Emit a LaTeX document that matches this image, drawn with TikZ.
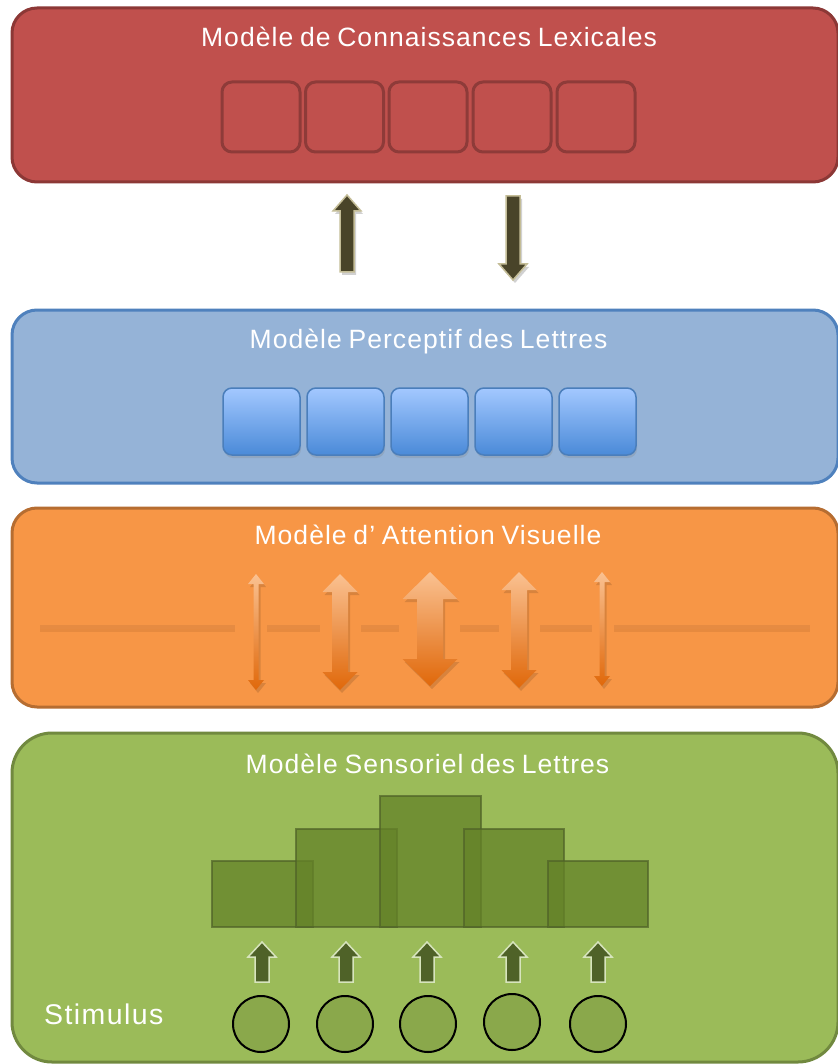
\documentclass[tikz,border=0pt]{standalone}
\usepackage{fontspec}
\setmainfont{Liberation Sans}
\newfontfamily\titlefam{Liberation Sans}[LetterSpace=4,WordSpace=0.8]
\newfontfamily\stimfam{Liberation Sans}[LetterSpace=5]
\usetikzlibrary{shadows}
\definecolor{redfill}{HTML}{C0504D}
\definecolor{redline}{HTML}{8C3836}
\definecolor{redinner}{HTML}{8E3B39}
\definecolor{bluefill}{HTML}{95B3D7}
\definecolor{blueline}{HTML}{4F81BD}
\definecolor{bluetop}{HTML}{A3C8FF}
\definecolor{bluebot}{HTML}{4A8AD8}
\definecolor{blueinline}{HTML}{4A7EBB}
\definecolor{orfill}{HTML}{F79646}
\definecolor{orline}{HTML}{B66D31}
\definecolor{orlight}{HTML}{FAC191}
\definecolor{ordark}{HTML}{E0680A}
\definecolor{orbar}{HTML}{E68B42}
\definecolor{orshadow}{HTML}{C87434}
\definecolor{grfill}{HTML}{9BBB59}
\definecolor{grline}{HTML}{71893F}
\definecolor{grbar}{HTML}{648228}
\definecolor{grbarline}{HTML}{4F6228}
\definecolor{grarrow}{HTML}{4F6228}
\definecolor{grarrowline}{HTML}{D7E4BD}
\definecolor{grcircle}{HTML}{8AA84B}
\definecolor{darrow}{HTML}{494429}
\definecolor{darrowline}{HTML}{C4BD97}
\newcommand{\titlefont}{\titlefam\fontsize{26.5}{30}\selectfont}
\newcommand{\stimfont}{\stimfam\fontsize{28.5}{32}\selectfont}
\tikzset{
  mainbox/.style={rectangle, rounded corners=25pt, line width=3pt, minimum width=826pt, inner sep=0pt},
  titletext/.style={text=white, font=\titlefont, inner sep=0pt, anchor=base},
  redcell/.style={rectangle, rounded corners=10pt, fill=redfill, draw=redinner, line width=3pt, minimum width=78pt, minimum height=70pt},
  bluecell/.style={rectangle, rounded corners=9pt, top color=bluetop, bottom color=bluebot, draw=blueinline, line width=1.5pt, minimum width=77pt, minimum height=67pt, drop shadow={opacity=0.25, shadow xshift=1pt, shadow yshift=-3pt}},
  grbarstyle/.style={fill=grbar, fill opacity=0.75, draw=grbarline, draw opacity=0.7, line width=2pt},
  stimcircle/.style={circle, fill=grcircle, draw=black, line width=2pt, minimum size=56pt, inner sep=0pt},
  darkarrow/.style={fill=darrow, draw=darrowline, line width=1.5pt, line join=miter},
  arrowshadow/.style={fill=black, fill opacity=0.18},
  greenarrow/.style={fill=grarrow, draw=grarrowline, line width=1.5pt},
  orshade/.style={top color=orlight, bottom color=ordark},
  orlinestyle/.style={draw=orbar, line width=4pt},
  orlineshadow/.style={draw=orshadow, line width=4pt, draw opacity=0.35}
}
% single up arrow: cx, tip, bottom, shaft half, head half, head length, style
\newcommand{\blkup}[7]{%
  \path[#7] ({#1-#4},{#3}) -- ({#1-#4},{#2+#6}) -- ({#1-#5},{#2+#6}) -- ({#1},{#2}) -- ({#1+#5},{#2+#6}) -- ({#1+#4},{#2+#6}) -- ({#1+#4},{#3}) -- cycle;}
% single down arrow: cx, top, tip, shaft half, head half, head length, style
\newcommand{\blkdown}[7]{%
  \path[#7] ({#1-#4},{#2}) -- ({#1-#4},{#3-#6}) -- ({#1-#5},{#3-#6}) -- ({#1},{#3}) -- ({#1+#5},{#3-#6}) -- ({#1+#4},{#3-#6}) -- ({#1+#4},{#2}) -- cycle;}
% double arrow: cx, top, bottom, shaft half, head half, head length
\newcommand{\dblarr}[6]{%
  \path[fill=black, fill opacity=0.12] ({#1+2},{#2+3}) -- ({#1+#5+2},{#2+#6+3}) -- ({#1+#4+2},{#2+#6+3}) -- ({#1+#4+2},{#3-#6+3}) -- ({#1+#5+2},{#3-#6+3}) -- ({#1+2},{#3+3}) -- ({#1-#5+2},{#3-#6+3}) -- ({#1-#4+2},{#3-#6+3}) -- ({#1-#4+2},{#2+#6+3}) -- ({#1-#5+2},{#2+#6+3}) -- cycle;
  \shade[orshade] ({#1},{#2}) -- ({#1+#5},{#2+#6}) -- ({#1+#4},{#2+#6}) -- ({#1+#4},{#3-#6}) -- ({#1+#5},{#3-#6}) -- ({#1},{#3}) -- ({#1-#5},{#3-#6}) -- ({#1-#4},{#3-#6}) -- ({#1-#4},{#2+#6}) -- ({#1-#5},{#2+#6}) -- cycle;}
\begin{document}
\begin{tikzpicture}[x=1pt, y=-1pt]
\useasboundingbox (0,0) rectangle (837,1064);
\fill[white] (0,0) rectangle (837,1064);

% ---------- Lexical knowledge model ----------
\node[mainbox, fill=redfill, draw=redline, minimum height=174pt] (lex) at (425,95) {};
\node[titletext] (lextitle) at (429,47) {Modèle de Connaissances Lexicales};
\foreach \i/\cx in {1/261, 2/344.5, 3/428, 4/512, 5/596}
  \node[redcell] (lexcell\i) at (\cx,117) {};

% ---------- arrows between lexical and perceptual ----------
\blkup{349}{198}{275}{7}{14}{16}{arrowshadow}
\blkup{347}{195}{272}{7}{14}{16}{darkarrow}
\blkdown{515}{199}{283}{7}{14}{16}{arrowshadow}
\blkdown{513}{196}{280}{7}{14}{16}{darkarrow}

% ---------- Perceptual letter model ----------
\node[mainbox, fill=bluefill, draw=blueline, minimum height=173pt] (perc) at (425,396.5) {};
\node[titletext] (perctitle) at (428.5,348) {Modèle Perceptif des Lettres};
\foreach \i/\cx in {1/261.5, 2/345.5, 3/429.5, 4/513.5, 5/597.5}
  \node[bluecell] (perccell\i) at (\cx,421.5) {};

% ---------- Visual attention model ----------
\node[mainbox, fill=orfill, draw=orline, minimum height=199pt] (att) at (425,607.5) {};
\node[titletext] (atttitle) at (428,544) {Modèle d’ Attention Visuelle};
\foreach \a/\b in {40/235, 267/320, 361/399, 460/499, 540/592, 614/810}{
  \draw[orlineshadow] (\a,630) -- (\b,630);
  \draw[orlinestyle] (\a,627) -- (\b,627);
}
\dblarr{256}{574}{690}{2.5}{8}{10}
\dblarr{340}{574}{690}{8}{17.5}{18}
\dblarr{430}{572}{686}{13}{27.5}{27}
\dblarr{519}{572}{688}{8}{17.5}{18}
\dblarr{602}{572}{686}{2.5}{8}{10}

% ---------- Sensory letter model ----------
\node[mainbox, fill=grfill, draw=grline, rounded corners=40pt, minimum height=329pt] (sens) at (425,897.5) {};
\node[titletext] (senstitle) at (427.5,773) {Modèle Sensoriel des Lettres};
\path[grbarstyle] (212,861) rectangle (313,927);
\path[grbarstyle] (296,829) rectangle (397,927);
\path[grbarstyle] (380,796) rectangle (481,927);
\path[grbarstyle] (464,829) rectangle (564,927);
\path[grbarstyle] (548,861) rectangle (648,927);
\foreach \cx in {262, 346, 427, 513, 598}
  \blkup{\cx}{942}{982}{7}{14}{15}{greenarrow};
\node[stimcircle] (c1) at (261,1024) {};
\node[stimcircle] (c2) at (345,1024) {};
\node[stimcircle] (c3) at (428,1024) {};
\node[stimcircle] (c4) at (512,1022) {};
\node[stimcircle] (c5) at (598,1024) {};
\node[text=white, font=\stimfont, inner sep=0pt, anchor=base west] (stim) at (44,1024) {Stimulus};
\end{tikzpicture}
\end{document}
